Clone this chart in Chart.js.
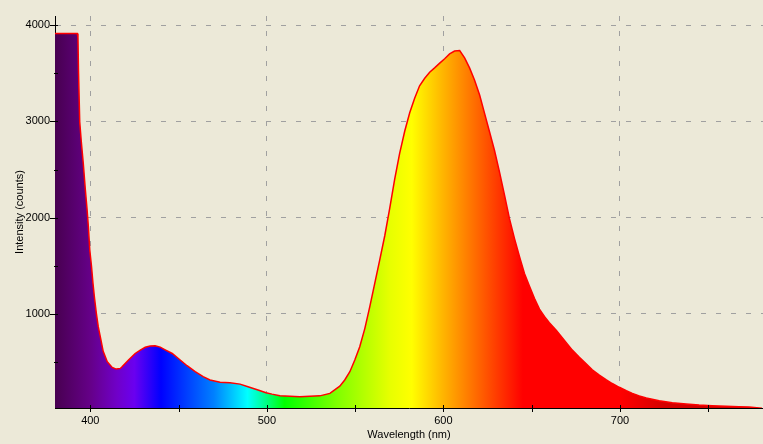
<!DOCTYPE html>
<html>
<head>
<meta charset="utf-8">
<script src="https://cdn.jsdelivr.net/npm/chart.js@4/dist/chart.umd.min.js"></script>
<style>
  body { margin: 0; background: #ece9d8; }
  #wrap { width: 763px; height: 444px; }
</style>
</head>
<body>
<div id="wrap"><canvas id="myChart" width="763" height="444"></canvas></div>
<script>
// spectrum
const wavelengths = [
  380, 392.6, 393.0, 393.3, 394.0, 394.9, 396.0, 397.2, 398.1, 398.9,
  399.7, 400.7, 401.5, 402.3, 403.4, 404.5, 405.7, 407.3, 409.6, 412.4,
  414.7, 417.0, 418.1, 421.5, 425.4, 428.3, 431.1, 433.9, 436.7, 439.6,
  442.4, 446.4, 450.9, 454.8, 459.4, 463.9, 467.8, 473.5, 479.1, 484.8,
  489.3, 495.0, 499.5, 502.9, 507.4, 518.7, 530.0, 535.7, 541.3, 544.1,
  547.0, 549.8, 552.6, 555.5, 558.3, 561.1, 563.9, 566.8, 569.6, 572.4,
  575.2, 578.1, 580.9, 583.7, 586.5, 589.4, 592.2, 595.0, 597.9, 600.7,
  603.5, 606.3, 609.2, 612.0, 614.8, 617.6, 620.5, 623.3, 626.1, 628.9,
  631.8, 634.6, 637.4, 640.3, 643.1, 645.9, 648.7, 651.6, 654.4, 657.2,
  660.0, 664.0, 665.7, 669.7, 673.0, 677.0, 681.0, 684.3, 688.3, 692.3,
  695.6, 699.6, 703.6, 707.0, 710.9, 714.9, 722.2, 729.6, 737.5, 744.8,
  752.2, 760.1, 767.4, 773.1, 780.4
];
const counts = [
  3913, 3913, 3870, 3530, 2996, 2788, 2567, 2287, 2100, 1906,
  1664, 1491, 1321, 1179, 1010, 868, 760, 612, 505, 445,
  428, 435, 455, 520, 590, 626, 654, 667, 671, 656,
  628, 590, 522, 463, 401, 349, 315, 291, 285, 272,
  245, 211, 182, 168, 152, 141, 150, 176, 250, 315,
  401, 522, 660, 851, 1076, 1318, 1560, 1815, 2100, 2400,
  2668, 2900, 3090, 3239, 3370, 3447, 3510, 3555, 3605, 3650,
  3700, 3730, 3735, 3660, 3555, 3430, 3273, 3083, 2892, 2700,
  2470, 2235, 1990, 1780, 1595, 1420, 1290, 1160, 1050, 975,
  910, 830, 790, 700, 625, 550, 480, 420, 365, 315,
  278, 239, 203, 176, 150, 127, 100, 79, 65, 55,
  48, 42, 37, 34, 22
];

// axis ticks
const xTicks = [400, 450, 500, 550, 600, 650, 700, 750];
const yTicks = [500, 1000, 1500, 2000, 2500, 3000, 3500, 4000];

// colour of each wavelength for the fill
const colorStops = [
  [380, "#480050"], [400, "#650088"], [415, "#7000c8"], [425, "#6a00f0"],
  [440, "#0000ff"], [470, "#0080ff"], [489, "#00ffff"], [500, "#00ff80"],
  [510, "#00ff00"], [540, "#80ff00"], [570, "#e8ff00"], [582, "#ffff00"],
  [600, "#ffb400"], [615, "#ff7800"], [630, "#ff3c00"], [645, "#ff0000"],
  [700, "#ff0000"], [725, "#d40000"], [781, "#cc0000"]
];

const spectrumFill = (context) => {
  const chart = context.chart;
  const { ctx, chartArea, scales } = chart;
  if (!chartArea) return "red";
  const x0 = scales.x.getPixelForValue(380);
  const x1 = scales.x.getPixelForValue(781);
  const g = ctx.createLinearGradient(x0, 0, x1, 0);
  colorStops.forEach(([wl, c]) => g.addColorStop((wl - 380) / (781 - 380), c));
  return g;
};

// small tick marks like the original (major cross the axis, minor inside)
const tickMarks = {
  id: "tickMarks",
  afterDraw(chart) {
    const { ctx, chartArea, scales } = chart;
    ctx.save();
    ctx.strokeStyle = "#000";
    ctx.lineWidth = 1;
    xTicks.forEach((v) => {
      const x = Math.round(scales.x.getPixelForValue(v)) + 0.5;
      ctx.beginPath();
      ctx.moveTo(x, chartArea.bottom - 3);
      ctx.lineTo(x, chartArea.bottom + 4);
      ctx.stroke();
    });
    yTicks.forEach((v) => {
      const y = Math.round(scales.y.getPixelForValue(v)) + 0.5;
      const major = v % 1000 === 0;
      ctx.beginPath();
      ctx.moveTo(chartArea.left - (major ? 5 : 1), y);
      ctx.lineTo(chartArea.left + 3, y);
      ctx.stroke();
    });
    ctx.restore();
  },
};

const font = { family: "Liberation Sans", size: 11 };

const ctx = document.getElementById("myChart");

new Chart(ctx, {
  type: "line",
  data: {
    datasets: [
      {
        label: "counts",
        data: wavelengths.map((w, i) => ({ x: w, y: counts[i] })),
        borderColor: "#ff0000",
        borderWidth: 1.5,
        pointRadius: 0,
        tension: 0,
        fill: "start",
        backgroundColor: spectrumFill,
      },
    ],
  },
  options: {
    responsive: false,
    animation: false,
    layout: { padding: { top: 16, right: 0, left: 0, bottom: 0 } },
    plugins: {
      legend: { display: false },
      tooltip: { enabled: false },
    },
    scales: {
      x: {
        type: "linear",
        min: 380,
        max: 781,
        afterFit: (scale) => { scale.height = 36; },
        afterBuildTicks: (scale) => { scale.ticks = xTicks.map((v) => ({ value: v })); },
        ticks: {
          padding: 6,
          color: "#000",
          font: font,
          maxRotation: 0,
          callback: (v) => (v % 100 === 0 ? v : ""),
        },
        grid: {
          drawTicks: false,
          color: (c) => (c.tick && c.tick.value % 100 === 0 ? "#a0a0a0" : "transparent"),
        },
        border: { display: true, color: "#000", width: 1, dash: [5, 10] },
        title: {
          display: true,
          text: "Wavelength (nm)",
          color: "#000",
          font: font,
          padding: { top: 0, bottom: 2 },
        },
      },
      y: {
        min: 24,
        max: 4094,
        afterFit: (scale) => { scale.width = 55; },
        afterBuildTicks: (scale) => { scale.ticks = yTicks.map((v) => ({ value: v })); },
        ticks: {
          padding: 5,
          color: "#000",
          font: font,
          callback: (v) => (v % 1000 === 0 ? v : ""),
        },
        grid: {
          drawTicks: false,
          color: (c) => (c.tick && c.tick.value % 1000 === 0 ? "#a0a0a0" : "transparent"),
        },
        border: { display: true, color: "#000", width: 1, dash: [5, 10] },
        title: {
          display: true,
          text: "Intensity (counts)",
          color: "#000",
          font: font,
          padding: { top: 13, bottom: 0 },
        },
      },
    },
  },
  plugins: [tickMarks],
});
</script>
</body>
</html>
